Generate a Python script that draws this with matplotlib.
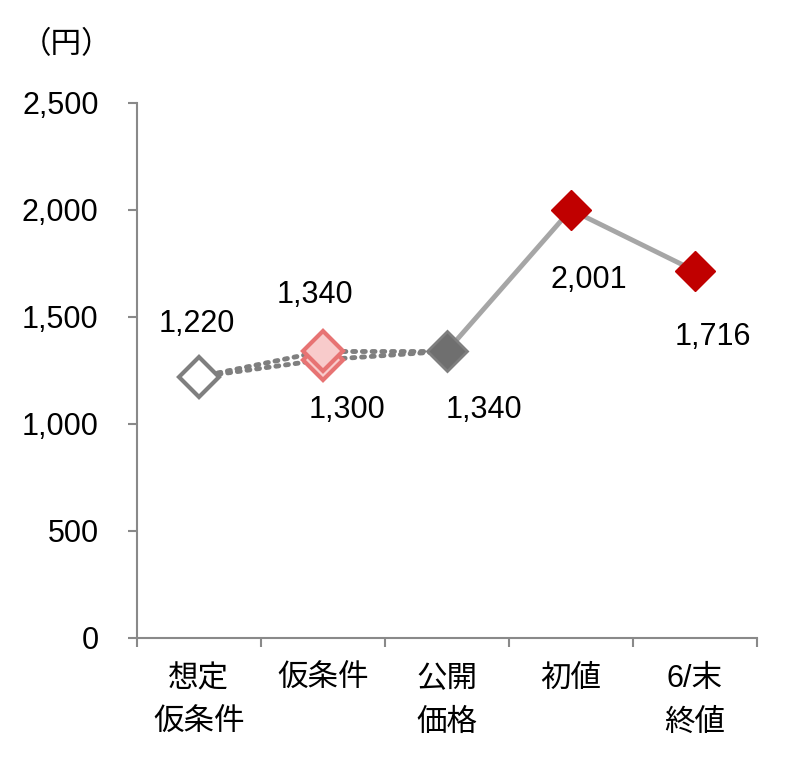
import numpy as np
import matplotlib.pyplot as plt
from matplotlib.ticker import FuncFormatter

plt.rcParams['font.family'] = ['Liberation Sans', 'Noto Sans CJK JP', 'DejaVu Sans']

# data
categories = ["想定\n仮条件", "仮条件", "公開\n価格", "初値", "6/末\n終値"]
assumed = 1220
cond_low, cond_high = 1300, 1340
offer = 1340
first = 2001
close_end = 1716

grey = "#898989"
dot_col = "#7f7f7f"
red = "#c00000"

fig = plt.figure(figsize=(8.05, 7.69), dpi=100)
ax = fig.add_axes([0.170, 0.1704, 0.770, 0.6957])

x = np.arange(len(categories))

# dotted connections through the tentative range
for v in (cond_low, cond_high):
    ax.plot([x[0], x[1]], [assumed, v], ls=(0, (0.6, 1.4)), color=dot_col, lw=3.5,
            dash_capstyle='round', zorder=2)
    ax.plot([x[1], x[2]], [v, offer], ls=(0, (0.6, 1.4)), color=dot_col, lw=3.5,
            dash_capstyle='round', zorder=2)

# solid line from offer price onward
ax.plot(x[2:], [offer, first, close_end], color="#a6a6a6", lw=3.5, zorder=2)

ms = 20
ax.plot(x[0], assumed, marker='D', ms=ms, mfc='white', mec='#7f7f7f', mew=3, zorder=3)
ax.plot([x[1], x[1]], [cond_low, cond_high], ls='none', marker='D', ms=ms,
        mfc='#f8cbcb', mec='#e77373', mew=3, zorder=3)
ax.plot(x[2], offer, marker='D', ms=ms, mfc='#6f6f6f', mec='#7f7f7f', mew=2, zorder=3)
ax.plot(x[3:], [first, close_end], ls='none', marker='D', ms=ms, mfc=red, mec=red,
        mew=1, zorder=3)

# value labels
labels = [
    (x[0], assumed, (-2, 53)),
    (x[1], cond_high, (-8, 56)),
    (x[1], cond_low, (24, -50)),
    (x[2], offer, (37, -59)),
    (x[3], first, (18, -70)),
    (x[4], close_end, (18, -66)),
]
for xi, v, off in labels:
    ax.annotate(f"{v:,}", (xi, v), xytext=off, textcoords='offset pixels',
                ha='center', va='center', fontsize=22)

ax.set_xlim(-0.5, 4.5)
ax.set_ylim(0, 2500)
ax.set_yticks(np.arange(0, 2501, 500))
ax.yaxis.set_major_formatter(FuncFormatter(lambda v, p: f"{int(v):,}"))
ax.set_xticks(x)
ax.set_xticklabels(categories, fontsize=22, linespacing=1.6, va='top')
ax.set_xticks(np.arange(-0.5, 4.6, 1), minor=True)

ax.tick_params(axis='x', which='major', length=0, pad=19)
ax.tick_params(axis='x', which='minor', length=6.5, width=1.5, color=grey, direction='out')
ax.tick_params(axis='y', length=6.5, width=1.5, color=grey, direction='out', labelsize=22, pad=21)

for s in ('top', 'right'):
    ax.spines[s].set_visible(False)
for s in ('left', 'bottom'):
    ax.spines[s].set_color(grey)
    ax.spines[s].set_linewidth(1.5)

fig.text(0.082, 0.9415, "（円）", fontsize=22, ha='center', va='center')

fig.savefig("out.png", dpi=100)
